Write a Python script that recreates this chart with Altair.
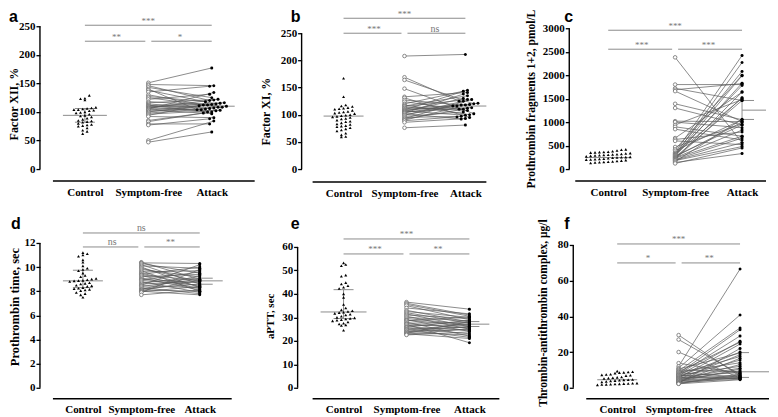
import math
import altair as alt
import pandas as pd

GROUPS = ["Control", "Symptom-free", "Attack"]
PANELS = ["a", "b", "c", "d", "e", "f"]

# ---------------- values ----------------
# a: Factor XII, %
ctrl_a = [129, 124, 123, 121, 108, 107, 106, 105, 104, 104, 103, 102, 100, 99, 98, 96, 94,
          93, 91, 89, 87, 85, 84, 83, 82, 80, 78, 77, 76, 75, 72, 68, 66, 62]
sf_a = [151, 148, 146, 143, 140, 138, 135, 130, 127, 125, 122, 118, 116, 114, 112, 111, 110, 109,
        108, 107, 106, 105, 104, 103, 101, 100, 98, 96, 94, 92, 85, 83, 79, 77, 50, 47]
atk_a = [177, 146, 120, 125, 104, 114, 145, 108, 118, 112, 131, 110, 122, 106, 100, 116, 108, 113,
         104, 121, 102, 134, 97, 112, 107, 115, 105, 103, 111, 90, 100, 98, 79, 88, 84, 65]

# b: Factor XI, %
ctrl_b = [167, 133, 118, 116, 115, 113, 112, 111, 110, 108, 106, 105, 104, 103, 102, 100, 99, 98,
          97, 96, 95, 93, 92, 90, 88, 87, 85, 83, 82, 80, 79, 78, 76, 74, 72, 70, 66, 63, 60, 59]
sf_b = [208, 169, 164, 148, 133, 131, 127, 124, 120, 118, 116, 115, 113, 112, 110, 109, 108,
        107, 106, 105, 104, 103, 102, 100, 99, 97, 95, 93, 92, 90, 89, 86, 76]
atk_b = [211, 125, 120, 102, 141, 95, 118, 110, 145, 100, 135, 128, 108, 118, 113, 143, 121,
         99, 130, 112, 116, 138, 92, 116, 125, 105, 97, 128, 110, 119, 96, 93, 81]

# c: Prothrombin fragments 1+2, pmol/L
ctrl_c = [420, 410, 395, 380, 370, 365, 360, 355, 350, 340, 330, 320, 315, 310, 305, 300, 295,
          290, 280, 270, 260, 255, 250, 245, 240, 230, 220, 215, 210, 205, 200, 190, 180, 170,
          160, 155, 150, 145, 140, 130]
sf_c = [2380, 1800, 1720, 1690, 1660, 1390, 1300, 1020, 1000, 940, 900, 850, 660, 630, 600, 470,
        420, 390, 350, 330, 320, 310, 300, 290, 280, 270, 260, 250, 240, 230, 220, 210, 200, 190,
        180, 160, 140, 120]
atk_c = [560, 1800, 1460, 1820, 1010, 1050, 940, 1010, 880, 1480, 700, 620, 1640, 790, 520, 960,
         2000, 1050, 2420, 2080, 1510, 1780, 2270, 1990, 940, 1830, 1000, 1460, 830, 700, 1640,
         1520, 660, 560, 480, 1060, 330, 450]

# d: Prothrombin time, sec
ctrl_d = [11.2, 11.1, 11.0, 10.9, 10.6, 10.4, 10.1, 9.9, 9.8, 9.7, 9.5, 9.3, 9.2, 9.05, 9.0, 8.95,
          8.9, 8.88, 8.86, 8.8, 8.7, 8.65, 8.6, 8.5, 8.45, 8.4, 8.3, 8.25, 8.2, 8.15, 8.1, 8.05,
          7.9, 7.8, 7.7, 7.5]
sf_d = [10.4, 10.35, 10.3, 10.2, 10.1, 10.0, 9.9, 9.8, 9.7, 9.6, 9.5, 9.4, 9.35, 9.3, 9.2, 9.1,
        9.0, 8.95, 8.9, 8.8, 8.7, 8.6, 8.5, 8.45, 8.4, 8.3, 8.2, 8.15, 8.1, 8.05, 8.0, 7.95, 7.9, 7.7]
atk_d = [9.0, 10.3, 9.5, 8.6, 9.9, 8.3, 8.8, 9.2, 8.0, 9.7, 8.4, 10.0, 8.9, 8.2, 9.4, 8.1, 8.7,
         9.6, 8.5, 7.9, 9.1, 8.8, 10.2, 8.3, 9.0, 7.8, 8.6, 9.3, 8.0, 8.9, 7.7, 8.4, 9.8, 8.1]

# e: aPTT, sec
ctrl_e = [53.2, 52.5, 52.0, 48.0, 47.5, 44.8, 44.2, 43.5, 42.8, 42.3, 40.0, 38.5, 35.5, 34.0,
          33.2, 32.8, 32.5, 32.2, 32.0, 31.7, 31.3, 31.0, 30.5, 30.0, 29.8, 29.5, 29.3, 29.0,
          28.8, 28.5, 28.0, 27.5, 27.2, 26.8, 26.5, 24.5]
sf_e = [36.5, 36.0, 35.5, 35.0, 34.0, 33.0, 32.5, 32.0, 31.5, 31.0, 30.5, 30.0, 29.5, 29.0, 28.8,
        28.5, 28.0, 27.5, 27.2, 27.0, 26.5, 26.0, 25.8, 25.5, 25.0, 24.8, 24.5, 24.0, 23.8, 23.5,
        23.2, 23.0, 22.8, 22.5]
atk_e = [33.5, 31.0, 30.5, 29.0, 31.5, 28.0, 30.0, 27.5, 26.0, 29.5, 25.0, 28.5, 27.0, 24.0, 26.5,
         30.2, 22.0, 27.8, 25.5, 19.2, 26.8, 24.5, 28.8, 23.0, 25.8, 21.5, 27.2, 24.8, 26.2, 22.5,
         28.2, 21.0, 25.2, 23.8]

# f: Thrombin-antithrombin complex, ug/l
ctrl_f = [9.3, 9.0, 8.8, 8.6, 8.5, 8.2, 7.6, 7.4, 7.2, 7.0, 6.8, 6.0, 5.8, 5.6, 5.4, 5.2, 4.6, 4.5,
          4.4, 4.2, 4.0, 3.8, 3.5, 3.2, 2.6, 2.5, 2.4, 2.3, 2.2, 2.1, 2.0, 1.9, 1.8, 1.6]
sf_f = [29.5, 27.0, 20.0, 13.8, 12.0, 11.0, 10.5, 10.0, 9.5, 9.0, 8.8, 8.5, 8.0, 7.8, 7.5, 7.2,
        7.0, 6.8, 6.5, 6.2, 6.0, 5.8, 5.5, 5.2, 5.0, 4.8, 4.5, 4.2, 4.0, 3.8, 3.5, 3.2, 3.0, 2.8,
        2.6, 2.5, 2.3, 2.2]
atk_f = [6.5, 7.5, 5.5, 8.0, 66.5, 40.8, 19.5, 9.0, 33.5, 25.5, 14.0, 6.0, 32.5, 17.5, 29.0, 12.0,
         5.0, 26.0, 8.5, 20.0, 15.5, 5.2, 24.5, 11.0, 7.0, 18.5, 9.5, 6.0, 13.0, 5.5, 10.5, 4.8,
         16.5, 6.8, 22.0, 5.8, 7.8, 4.5]

CTRL = [ctrl_a, ctrl_b, ctrl_c, ctrl_d, ctrl_e, ctrl_f]
SF = [sf_a, sf_b, sf_c, sf_d, sf_e, sf_f]
ATK = [atk_a, atk_b, atk_c, atk_d, atk_e, atk_f]

# summary lines
ctrl_center = [94, 97.5, 245, 8.86, 32.3, 4.5]
ctrl_low = [82, None, None, 8.3, 29.5, None]
ctrl_high = [106, None, None, 9.74, 41.8, None]
atk_center = [110, 116, 1255, 8.86, 27.1, 8.95]
atk_low = [None, None, 1057, 8.58, 26.1, 5.8]
atk_high = [None, None, 1461, 9.08, 28.2, 19.7]

sig_outer = ["***", "***", "***", "ns", "***", "***"]
sig_left = ["**", "***", "***", "ns", "***", "*"]
sig_right = ["*", "ns", "***", "**", "**", "**"]

y_titles = ["Factor XII, %", "Factor XI, %", "Prothrombin fragments 1+2, pmol/L",
            "Prothrombin time, sec", "aPTT, sec", "Thrombin-antithrombin complex, \u03bcg/l"]
y_tick_max = [250, 250, 3000, 12, 60, 80]
y_tick_step = [50, 50, 500, 2, 10, 20]

# ---------------- layout (pixel geometry of the reference) ----------------
H = 145
COLW = [260, 263, 194]
LAYOUT = [
    dict(left=53, top=23, cats=(85, 149, 212), ytop=25, axx=40, xl=(53, 255, 180),
         brt=24, brl=40, letter=(9, 21), tt=(14, 102.5, 12), med=22, ql=10, al=23, asl=12, spread=True),
    dict(left=313, top=23, cats=(344, 404, 466), ytop=32, axx=302, xl=(313, 487, 181),
         brt=17, brl=32, letter=(291, 21), tt=(266, 110, 12), med=20, ql=10, al=21, asl=12, spread=True),
    dict(left=576, top=23, cats=(609, 676, 743), ytop=27, axx=570, xl=(576, 767, 180),
         brt=29, brl=48, letter=(565, 21), tt=(532, 97.5, 11.5), med=22, ql=10, al=24, asl=12, spread=False),
    dict(left=53, top=242, cats=(83, 143, 200), ytop=242, axx=40, xl=(53, 232, 398),
         brt=232, brl=246, letter=(11, 228), tt=(14.5, 305.7, 12.5), med=20, ql=10, al=23, asl=13, spread=False),
    dict(left=313, top=242, cats=(344, 407, 470), ytop=246, axx=298, xl=(313, 500, 398),
         brt=238, brl=253, letter=(291, 228), tt=(271, 315, 11), med=23, ql=10, al=20, asl=10, spread=False),
    dict(left=576, top=242, cats=(618, 678, 741), ytop=244, axx=574, xl=(587, 770, 398),
         brt=243, brl=262, letter=(565, 228), tt=(544, 311.7, 11.5), med=20, ql=10, al=29, asl=9, spread=False),
]

GRAY = "#8c8c8c"
SERIF = "Liberation Serif"


def row_spread(ys_px, r, s):
    """GraphPad-like scatter: bin by pixel rows, spread each row horizontally."""
    bins = {}
    for i, y in enumerate(ys_px):
        bins.setdefault(int(math.floor(y / r + 0.5)), []).append(i)
    xs = [0.0] * len(ys_px)
    for idx in bins.values():
        idx = sorted(idx, key=lambda j: ys_px[j])
        m = len(idx)
        for j, ii in enumerate(idx):
            xs[ii] = (j - (m - 1) / 2.0) * s
    return xs


def panel(i):
    L = LAYOUT[i]
    col = i % 3
    W = COLW[col]
    left, top = L["left"], L["top"]
    c0, c1, c2 = L["cats"]
    pxu = (c2 - c0) / 2.0
    y_zero = top + H
    tmax = y_tick_max[i]
    k = (y_zero - L["ytop"]) / tmax

    def xd(px):
        return (px - c0) / pxu

    def yd(py):
        return (y_zero - py) / k

    xs = alt.Scale(domain=[xd(left), xd(left + W)], nice=False, zero=False)
    ys = alt.Scale(domain=[0, H / k], nice=False, zero=False)
    ticks = [j * y_tick_step[i] for j in range(int(round(tmax / y_tick_step[i])) + 1)]
    yaxis = alt.Axis(values=ticks, offset=left - L["axx"], domain=False, grid=False, format="d",
                     tickSize=4, tickWidth=1.3, tickColor="black", labelPadding=1,
                     labelFontSize=11, labelFlush=False, labelOverlap=False,
                     title=y_titles[i], titleFontSize=L["tt"][2], titleAngle=270,
                     titleAlign="center", titleBaseline="middle",
                     titleX=L["tt"][0] - L["axx"], titleY=L["tt"][1] - top)
    xaxis = alt.Axis(values=[0, 1, 2], labelExpr="['Control','Symptom-free','Attack'][datum.value]",
                     offset=L["xl"][2] - y_zero, domain=False, ticks=False, tickSize=0,
                     labelPadding=5, labelFontSize=11, labelFlush=False, labelOverlap=False,
                     grid=False, title=None)

    def X(f):
        return alt.X(f"{f}:Q", scale=xs, axis=xaxis)

    def Y(f):
        return alt.Y(f"{f}:Q", scale=ys, axis=yaxis)

    ctrl, sf, atk = CTRL[i], SF[i], ATK[i]
    cj = [o / pxu for o in row_spread([v * k for v in ctrl], 3.6, 4.4)]
    if L["spread"]:
        aj = [o / pxu for o in row_spread([v * k for v in atk], 3.6, 4.2)]
    else:
        aj = [0.0] * len(atk)

    df_ctrl = pd.DataFrame({"x": cj, "y": ctrl})
    df_sf = pd.DataFrame({"x": [1.0] * len(sf), "y": sf})
    df_atk = pd.DataFrame({"x": [2.0 + a for a in aj], "y": atk})
    df_pair = pd.DataFrame({"x": [1.0] * len(sf), "x2": [2.0 + a for a in aj], "y": sf, "y2": atk})

    # summary lines
    hrows = [dict(x=-L["med"] / pxu, x2=L["med"] / pxu, y=ctrl_center[i])]
    vrows = []
    if ctrl_low[i] is not None:
        hrows.append(dict(x=-L["ql"] / pxu, x2=L["ql"] / pxu, y=ctrl_low[i]))
        hrows.append(dict(x=-L["ql"] / pxu, x2=L["ql"] / pxu, y=ctrl_high[i]))
        vrows.append(dict(x=0.0, y=ctrl_low[i], y2=ctrl_high[i]))
    hrows.append(dict(x=2.0, x2=2.0 + L["al"] / pxu, y=atk_center[i]))
    if atk_low[i] is not None:
        hrows.append(dict(x=2.0, x2=2.0 + L["asl"] / pxu, y=atk_low[i]))
        hrows.append(dict(x=2.0, x2=2.0 + L["asl"] / pxu, y=atk_high[i]))
        vrows.append(dict(x=2.0, y=atk_low[i], y2=atk_high[i]))
    df_h = pd.DataFrame(hrows)
    df_v = pd.DataFrame(vrows) if vrows else None

    # significance brackets
    gap = 3.0 / pxu
    df_br = pd.DataFrame([
        dict(x=0.0, x2=2.0, y=yd(L["brt"])),
        dict(x=0.0, x2=1.0 - gap, y=yd(L["brl"])),
        dict(x=1.0 + gap, x2=2.0, y=yd(L["brl"])),
    ])
    labs = [sig_outer[i], sig_left[i], sig_right[i]]
    df_bt = pd.DataFrame({
        "x": [1.0, 0.5, 1.5],
        "y": [yd(L["brt"] - 1.5), yd(L["brl"] - 1.5), yd(L["brl"] - 1.5)],
        "t": labs,
        "fs": [10 if s == "ns" else 9 for s in labs],
    })

    # axis lines
    df_yl = pd.DataFrame({"y": [0.0], "y2": [float(tmax)]})
    df_xl = pd.DataFrame({"x": [xd(L["xl"][0])], "x2": [xd(L["xl"][1])], "y": [yd(L["xl"][2])]})

    layers = []
    layers.append(alt.Chart(df_pair).mark_rule(color="#5a5a5a", strokeWidth=0.7).encode(
        x=X("x"), x2=alt.X2("x2:Q"), y=Y("y"), y2=alt.Y2("y2:Q")))
    layers.append(alt.Chart(df_h).mark_rule(color=GRAY, strokeWidth=1).encode(
        x=X("x"), x2=alt.X2("x2:Q"), y=Y("y")))
    if df_v is not None:
        layers.append(alt.Chart(df_v).mark_rule(color=GRAY, strokeWidth=1).encode(
            x=X("x"), y=Y("y"), y2=alt.Y2("y2:Q")))
    layers.append(alt.Chart(df_sf).mark_point(shape="circle", filled=True, fill="white",
                                              stroke="#6e6e6e", strokeWidth=0.8, size=13,
                                              opacity=1).encode(x=X("x"), y=Y("y")))
    layers.append(alt.Chart(df_atk).mark_circle(size=9, color="black", opacity=1).encode(
        x=X("x"), y=Y("y")))
    layers.append(alt.Chart(df_ctrl).mark_point(shape="triangle-up", filled=True, size=9,
                                                color="black", opacity=1).encode(
        x=X("x"), y=Y("y")))
    layers.append(alt.Chart(df_br).mark_rule(color=GRAY, strokeWidth=1).encode(
        x=X("x"), x2=alt.X2("x2:Q"), y=Y("y")))
    layers.append(alt.Chart(df_bt).mark_text(font=SERIF, color="#777777", baseline="alphabetic",
                                             align="center").encode(
        x=X("x"), y=Y("y"), text="t:N", size=alt.Size("fs:Q", scale=None, legend=None)))
    layers.append(alt.Chart(df_yl).mark_rule(color="black", strokeWidth=1.4).encode(
        x=alt.value(L["axx"] - left), y=Y("y"), y2=alt.Y2("y2:Q")))
    layers.append(alt.Chart(df_xl).mark_rule(color="black", strokeWidth=1.4).encode(
        x=X("x"), x2=alt.X2("x2:Q"), y=Y("y")))
    layers.append(alt.Chart(pd.DataFrame({"t": [PANELS[i]]})).mark_text(
        font="Liberation Sans", fontWeight="bold", fontSize=16, color="black",
        align="left", baseline="alphabetic").encode(
        x=alt.value(L["letter"][0] - left), y=alt.value(L["letter"][1] - top), text="t:N"))
    if i == 0:
        # invisible anchor fixing the top-left corner of the figure
        layers.append(alt.Chart(pd.DataFrame({"t": [0]})).mark_rule(
            strokeOpacity=0, strokeWidth=1).encode(
            x=alt.value(8 - left), x2=alt.value(9 - left), y=alt.value(8 - top)))
    return alt.layer(*layers).properties(width=W, height=H)


chart = alt.concat(*[panel(i) for i in range(6)], columns=3,
                   spacing={"row": 74, "column": 0}, bounds="flush", align="each").properties(
    padding=0, background="white"
).configure_view(stroke=None).configure_axis(
    labelFont=SERIF, labelFontWeight="bold", labelColor="black",
    titleFont=SERIF, titleFontWeight="bold", titleColor="black"
)

chart.save("out.html", embed_options={"renderer": "svg", "actions": False})
